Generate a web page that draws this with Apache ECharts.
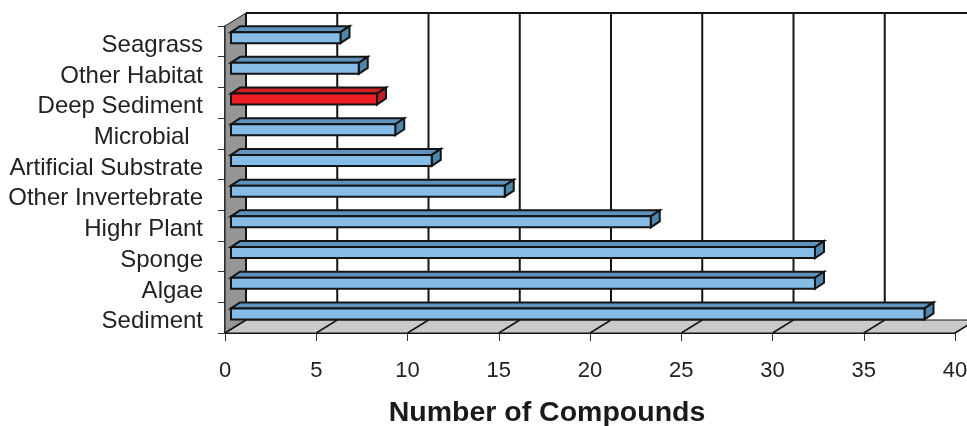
<!DOCTYPE html>
<html>
<head>
<meta charset="utf-8">
<script src="https://cdn.jsdelivr.net/npm/echarts@6/dist/echarts.min.js"></script>
<style>
html, body { margin: 0; padding: 0; background: #fff; }
#main { width: 967px; height: 426px; }
</style>
</head>
<body>
<div id="main"></div>
<script>
// bottom to top, the way the category axis counts
var categories = ['Sediment', 'Algae', 'Sponge', 'Highr Plant', 'Other Invertebrate',
    'Artificial Substrate', 'Microbial  ', 'Deep Sediment', 'Other Habitat', 'Seagrass'];
var compounds = [38, 32, 32, 23, 15, 11, 9, 8, 7, 6];
var xTicks = [0, 5, 10, 15, 20, 25, 30, 35, 40];
var highlighted = 'Deep Sediment';

// fake 3d: how far the back wall sits from the front plane, in px
var WALL_DX = 21, WALL_DY = -13;
// bars stand a bit behind the front plane and have their own depth
var BAR_DX = 6, BAR_DY = -3.7, BAR_DEPTH_X = 9, BAR_DEPTH_Y = -6, BAR_H = 11;
var INK = '#141414';

function poly(points, fill, lineWidth) {
    return {
        type: 'polygon',
        shape: { points: points },
        style: { fill: fill, stroke: INK, lineWidth: lineWidth }
    };
}

function line(x1, y1, x2, y2, width) {
    return {
        type: 'line',
        shape: { x1: x1, y1: y1, x2: x2, y2: y2 },
        style: { stroke: INK, lineWidth: width }
    };
}

function renderFrame(params, api) {
    var v = api.value(0);
    // category coords snap to band centres, so go half a band out by hand
    var band = api.size([0, 1])[1];
    var x = api.coord([v, 0])[0];
    var bottomY = api.coord([v, 0])[1] + band / 2;
    var topY = api.coord([v, categories.length - 1])[1] - band / 2;
    var kids = [];
    if (params.dataIndex === 0) {
        var rightX = api.coord([xTicks[xTicks.length - 1], 0])[0];
        kids.push(poly([
            [x, bottomY], [rightX, bottomY],
            [rightX + WALL_DX, bottomY + WALL_DY], [x + WALL_DX, bottomY + WALL_DY]
        ], '#c9c9c9', 1));
        kids.push(poly([
            [x, topY], [x + WALL_DX, topY + WALL_DY],
            [x + WALL_DX, bottomY + WALL_DY], [x, bottomY]
        ], '#969696', 1));
        kids.push(line(x + WALL_DX, topY + WALL_DY, rightX + WALL_DX, topY + WALL_DY, 2));
    }
    kids.push(line(x, bottomY, x + WALL_DX, bottomY + WALL_DY, 1.5));
    kids.push(line(x + WALL_DX, topY + WALL_DY, x + WALL_DX, bottomY + WALL_DY, 2));
    return { type: 'group', children: kids };
}

function renderBar(params, api) {
    var start = api.coord([0, api.value(0)]);
    var end = api.coord([api.value(1), api.value(0)]);
    var red = categories[api.value(0)] === highlighted;
    var x0 = start[0] + BAR_DX;
    var x1 = end[0] + BAR_DX;
    var y0 = start[1] + BAR_DY - BAR_H / 2;
    var y1 = y0 + BAR_H;
    return {
        type: 'group',
        children: [
            poly([[x0, y0], [x0 + BAR_DEPTH_X, y0 + BAR_DEPTH_Y], [x1 + BAR_DEPTH_X, y0 + BAR_DEPTH_Y], [x1, y0]],
                red ? '#cf2026' : '#5f93bd', 2),
            poly([[x1, y0], [x1 + BAR_DEPTH_X, y0 + BAR_DEPTH_Y], [x1 + BAR_DEPTH_X, y1 + BAR_DEPTH_Y], [x1, y1]],
                red ? '#bf2026' : '#4f86ad', 2),
            poly([[x0, y0], [x1, y0], [x1, y1], [x0, y1]],
                red ? '#ee1c25' : '#85bde8', 2)
        ]
    };
}

var myChart = echarts.init(document.getElementById('main'));
myChart.setOption({
    animation: false,
    grid: { left: 225, top: 26, width: 730, height: 307, outerBoundsMode: 'none' },
    textStyle: { fontFamily: 'Liberation Sans' },
    xAxis: {
        type: 'value',
        min: 0,
        max: 40,
        interval: 5,
        name: 'Number of Compounds',
        nameLocation: 'middle',
        nameGap: 66,
        nameMoveOverlap: false,
        nameTextStyle: { fontFamily: 'Liberation Sans', fontSize: 28.5, fontWeight: 'bold', color: '#1a1a1a', padding: [0, 86, 0, 0] },
        splitLine: { show: false },
        axisLine: { show: true, lineStyle: { color: INK, width: 2 } },
        axisTick: { show: true, length: 8, lineStyle: { color: '#333', width: 1 } },
        axisLabel: { fontFamily: 'Liberation Sans', fontSize: 22, color: '#222', margin: 27, showMaxLabel: true }
    },
    yAxis: {
        type: 'category',
        data: categories,
        splitLine: { show: false },
        axisLine: { show: true, lineStyle: { color: INK, width: 1.5 } },
        axisTick: { show: true, length: 7, lineStyle: { color: '#333', width: 1 } },
        // labels sit a little under the band centre in the original
        axisLabel: { fontFamily: 'Liberation Sans', fontSize: 24, lineHeight: 8, verticalAlign: 'top', color: '#222', margin: 22, interval: 0 }
    },
    series: [
        {
            type: 'custom',
            silent: true,
            coordinateSystem: 'cartesian2d',
            renderItem: renderFrame,
            encode: { x: 0 },
            data: xTicks.map(function (t) { return [t]; }),
            z: 1
        },
        {
            type: 'custom',
            silent: true,
            coordinateSystem: 'cartesian2d',
            renderItem: renderBar,
            encode: { y: 0, x: 1 },
            data: compounds.map(function (v, i) { return [i, v]; }),
            z: 2
        }
    ]
});
</script>
</body>
</html>
